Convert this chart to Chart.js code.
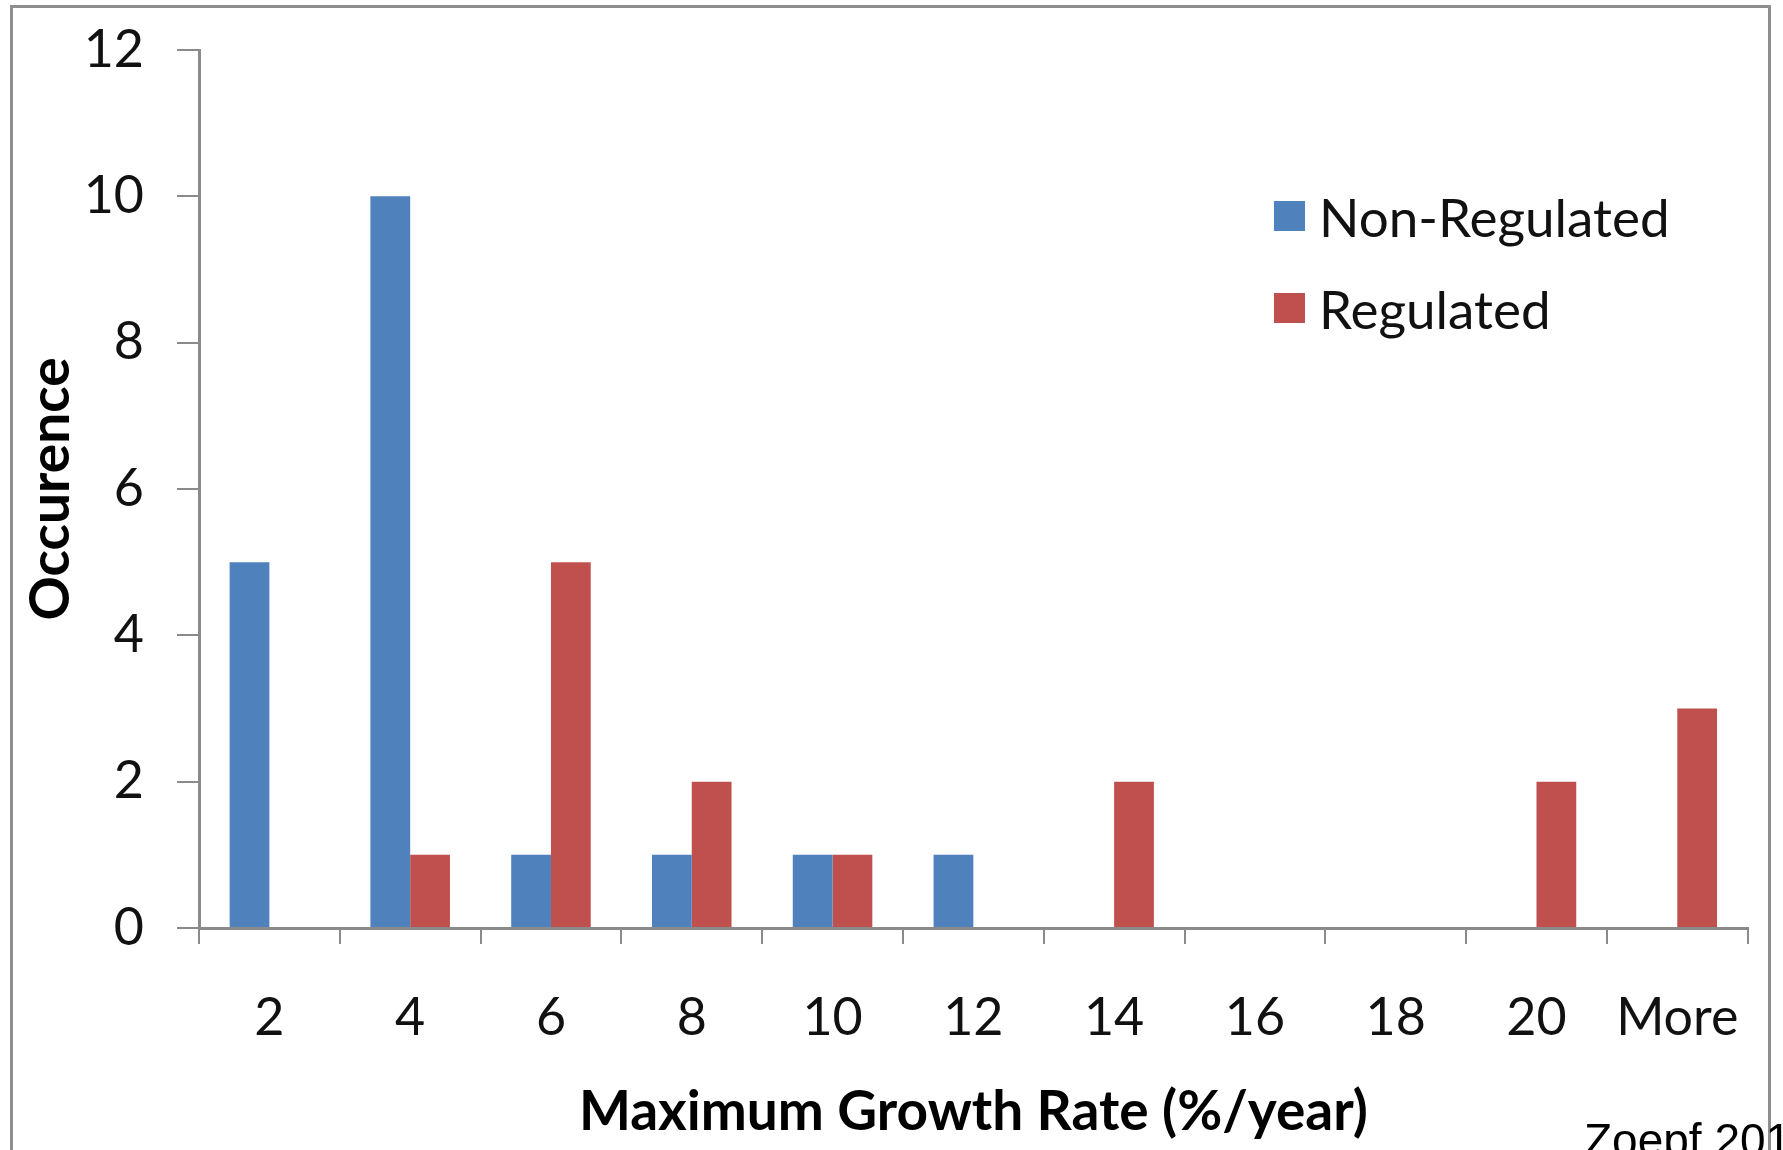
<!DOCTYPE html>
<html>
<head>
<meta charset="utf-8">
<script src="https://cdn.jsdelivr.net/npm/chart.js@4/dist/chart.umd.min.js"></script>
<style>
  html, body { margin: 0; padding: 0; background: #fff; }
  body { width: 1783px; height: 1150px; overflow: hidden; position: relative; }
  #frame { position: absolute; left: 10px; top: 5px; width: 1755px; height: 1300px; border: 3px solid #8e8e8e; }
  #wrap { position: absolute; left: 0; top: 0; width: 1783px; height: 1150px; }
  #legend { position: absolute; left: 1274px; top: 170px; font-family: Lato, sans-serif; font-size: 53px; color: #111; }
  .row { display: flex; align-items: center; height: 92px; }
  .box { width: 31px; height: 30px; margin-right: 14px; }
  #note { position: absolute; left: 1584px; top: 1117px; font-family: "Liberation Sans", Arial, sans-serif; font-size: 46px; line-height: 1; color: #000; white-space: nowrap; }
</style>
</head>
<body>
<div id="frame"></div>
<div id="wrap"><canvas id="growthChart"></canvas></div>
<div id="legend"></div>
<div id="note">Zoepf 2011</div>
<script>
// Data
const categories = ["2", "4", "6", "8", "10", "12", "14", "16", "18", "20", "More"];
const nonRegulated = [5, 10, 1, 1, 1, 1, 0, 0, 0, 0, 0];
const regulated = [0, 1, 5, 2, 1, 0, 2, 0, 0, 2, 3];
const yTicks = [0, 2, 4, 6, 8, 10, 12];

const axisGray = "#8a8a8a";
const labelFont = { family: "Lato", size: 52 };
const titleFont = { family: "Lato", size: 55, weight: "bold" };

const ctx = document.getElementById("growthChart").getContext("2d");
const chart = new Chart(ctx, {
  type: "bar",
  data: {
    labels: categories,
    datasets: [
      {
        label: "Non-Regulated",
        data: nonRegulated,
        backgroundColor: "#4F81BD",
        borderWidth: 0,
      },
      {
        label: "Regulated",
        data: regulated,
        backgroundColor: "#C0504D",
        borderWidth: 0,
      },
    ],
  },
  options: {
    responsive: true,
    maintainAspectRatio: false,
    animation: false,
    layout: {
      padding: { left: 0, top: 50, right: 35, bottom: 0 },
    },
    datasets: {
      bar: { barPercentage: 1, categoryPercentage: 0.565 },
    },
    plugins: {
      legend: { display: false },
      tooltip: { enabled: false },
    },
    scales: {
      x: {
        afterFit: (scale) => { scale.height = 222; },
        grid: {
          display: true,
          offset: true,
          drawOnChartArea: false,
          color: axisGray,
          lineWidth: 2,
          tickLength: 16,
        },
        border: { color: axisGray, width: 3 },
        ticks: { font: labelFont, color: "#111", padding: 43, maxRotation: 0 },
        title: {
          display: true,
          text: "Maximum Growth Rate (%/year)",
          font: titleFont,
          color: "#000",
          padding: { top: 0, bottom: 5 },
        },
      },
      y: {
        min: 0,
        max: 12,
        afterFit: (scale) => {
          scale.width = 199;
          // the top label may stick out above the plot, as in the original
          scale.paddingTop = 0;
          scale.paddingBottom = 0;
        },
        afterBuildTicks: (scale) => {
          scale.ticks = yTicks.map((v) => ({ value: v }));
        },
        grid: {
          display: true,
          drawOnChartArea: false,
          color: axisGray,
          lineWidth: 2,
          tickLength: 22,
        },
        border: { color: axisGray, width: 3 },
        ticks: { font: labelFont, color: "#111", padding: 33 },
        title: {
          display: true,
          text: "Occurence",
          font: titleFont,
          color: "#000",
          padding: { top: 18, bottom: 0 },
        },
      },
    },
  },
});

// Legend built from the datasets, placed inside the plot
const legendEl = document.getElementById("legend");
chart.data.datasets.forEach((ds) => {
  const row = document.createElement("div");
  row.className = "row";
  row.innerHTML = '<span class="box" style="background:' + ds.backgroundColor + '"></span><span>' + ds.label + "</span>";
  legendEl.appendChild(row);
});
</script>
</body>
</html>
